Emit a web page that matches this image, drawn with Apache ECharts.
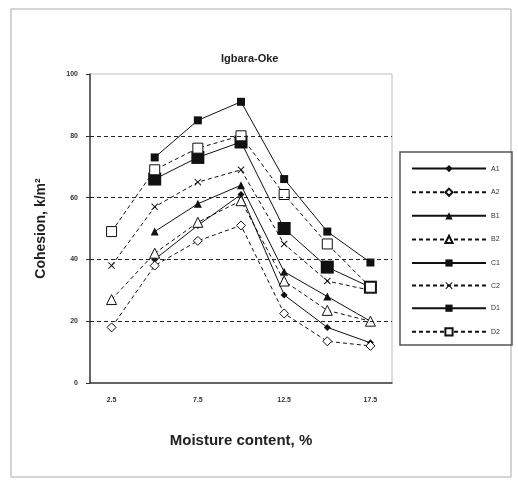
<!DOCTYPE html>
<html><head><meta charset="utf-8">
<script src="https://cdn.jsdelivr.net/npm/echarts@6/dist/echarts.min.js"></script>
<style>html,body{margin:0;padding:0;background:#fff}#c{width:518px;height:485px}</style>
</head><body><div id="c"></div>
<script>
var categories = ['2.5','5','7.5','10','12.5','15','17.5'];
var yTicks = [0,20,40,60,80,100];
var gridValues = [20,40,60,80];
var A1 = [null, 40, 51, 61, 28.5, 18, 13];
var A2 = [18, 38, 46, 51, 22.5, 13.5, 12];
var B1 = [null, 49, 58, 64, 36, 28, 20];
var B2 = [27, 42, 52, 59, 33, 23.5, 20];
var C1 = [null, 66, 73, 78, 50, 37.5, 31];
var C2 = [38, 57, 65, 69, 45, 33, 30];
var D1 = [null, 73, 85, 91, 66, 49, 39];
var D2 = [49, 69, 76, 80, 61, 45, 31];
var names = ['A1','A2','B1','B2','C1','C2','D1','D2'];

var xPath = 'path://M0,1L1,0L5,4L9,0L10,1L6,5L10,9L9,10L5,6L1,10L0,9L4,5Z';
function mk(name, data, dashed, symbol, size, filled) {
  return {
    name: name, type: 'line', data: data, symbol: symbol, symbolSize: size,
    connectNulls: false, animation: false,
    lineStyle: {color: '#111', width: 1, type: dashed ? [4,3] : 'solid'},
    itemStyle: {color: filled ? '#111' : '#fff', borderColor: '#111', borderWidth: filled ? 0 : 1}
  };
}
var series = [
  mk('A1', A1, false, 'diamond', 7, true),
  mk('A2', A2, true, 'diamond', 9, false),
  mk('B1', B1, false, 'triangle', 8, true),
  mk('B2', B2, true, 'triangle', 10, false),
  mk('C1', C1, false, 'rect', 13, true),
  mk('C2', C2, true, xPath, 7, true),
  mk('D1', D1, false, 'rect', 8, true),
  mk('D2', D2, true, 'rect', 10, false)
];
series[0].markLine = {
  silent: true, symbol: 'none', label: {show: false},
  lineStyle: {color: '#222', type: [4,3], width: 1.2},
  data: gridValues.map(function(v){return {yAxis: v};})
};
var chart = echarts.init(document.getElementById('c'));
chart.setOption({
  backgroundColor: '#fff',
  animation: false,
  title: {text: 'Igbara-Oke', left: 216, top: 48,
    textStyle: {fontFamily: 'Liberation Sans', fontWeight: 'bold', fontSize: 11, color: '#222'}},
  grid: {left: 90, right: 126, top: 74, bottom: 102},
  xAxis: {
    type: 'category', data: categories, boundaryGap: true,
    name: 'Moisture content, %', nameLocation: 'middle', nameGap: 50,
    nameTextStyle: {fontFamily: 'Liberation Sans', fontWeight: 'bold', fontSize: 15, color: '#222'},
    axisLine: {lineStyle: {color: '#333', width: 1.5}},
    axisTick: {interval: 0, length: 3, lineStyle: {color: '#333'}},
    axisLabel: {interval: 1, fontFamily: 'Liberation Sans', fontSize: 7, fontWeight: 'bold', color: '#333', margin: 14}
  },
  yAxis: {
    type: 'value', min: 0, max: 100, interval: 20,
    name: 'Cohesion, k/m²', nameLocation: 'middle', nameGap: 42,
    nameTextStyle: {fontFamily: 'Liberation Sans', fontWeight: 'bold', fontSize: 14, color: '#222'},
    axisLine: {show: true, lineStyle: {color: '#333', width: 1.5}},
    axisTick: {show: true, length: 4, lineStyle: {color: '#333'}},
    splitLine: {show: false},
    axisLabel: {fontFamily: 'Liberation Sans', fontSize: 7, fontWeight: 'bold', color: '#333', margin: 12}
  },
  legend: {
    orient: 'vertical', left: 406, top: 160, itemWidth: 74, itemHeight: 9, itemGap: 15.4,
    data: names, selectedMode: false,
    textStyle: {fontFamily: 'Liberation Sans', fontSize: 7, color: '#333'}
  },
  graphic: [
    {type: 'rect', shape: {x: 11, y: 9, width: 500, height: 468}, style: {fill: 'none', stroke: '#aaa', lineWidth: 1}, silent: true},
    {type: 'rect', shape: {x: 400, y: 152, width: 112, height: 193}, style: {fill: 'none', stroke: '#555', lineWidth: 1.5}, silent: true},
    {type: 'line', shape: {x1: 90, y1: 74, x2: 392, y2: 74}, style: {stroke: '#bbb', lineWidth: 1}, silent: true},
    {type: 'line', shape: {x1: 392, y1: 74, x2: 392, y2: 383}, style: {stroke: '#bbb', lineWidth: 1}, silent: true}
  ],
  series: series
});
</script></body></html>
